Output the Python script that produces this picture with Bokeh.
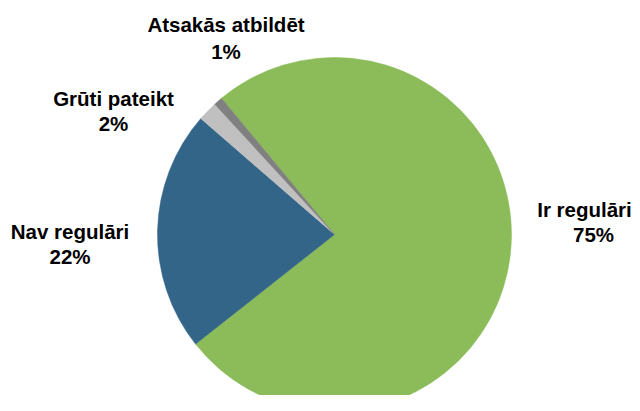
import numpy as np
from bokeh.plotting import figure
from bokeh.models import ColumnDataSource, Range1d
from bokeh.core.properties import value
from bokeh.embed import file_html
from bokeh.resources import INLINE

# ---- data ----
categories = ["Ir regulāri", "Nav regulāri", "Grūti pateikt", "Atsakās atbildēt"]
shares = [75.4, 22.0, 1.8, 0.8]
colors = ["#8BBC59", "#336589", "#C0C0C0", "#808080"]

# ---- layout (pixels, measured from top-left) ----
W, H = 632, 395
cx, cy_top, r = 334, 234, 177
start_deg = 129.7
name_pos = [(584, 209), (69.5, 231), (113, 97.5), (225.5, 24)]
pct_pos = [(593, 234), (69.5, 255.5), (113, 123), (225.5, 50.5)]

vals = np.array(shares, dtype=float)
frac = vals / vals.sum()
cum = np.concatenate([[0.0], np.cumsum(frac)])
base = np.deg2rad(start_deg)
starts = base - cum[:-1] * 2 * np.pi
ends = base - cum[1:] * 2 * np.pi

src = ColumnDataSource(dict(x=[cx] * len(vals), y=[H - cy_top] * len(vals),
                            start=starts, end=ends, color=colors))

p = figure(width=W, height=H, output_backend="svg", toolbar_location=None,
           x_range=Range1d(0, W), y_range=Range1d(0, H), min_border=0)
p.axis.visible = False
p.grid.visible = False
p.outline_line_color = None
p.background_fill_color = "white"
p.border_fill_color = "white"

p.wedge(x="x", y="y", radius=r, start_angle="start", end_angle="end",
        direction="clock", fill_color="color", line_color="color",
        line_width=0.5, source=src)

pct = [f"{int(round(v))}%" for v in vals]
font = value("Liberation Sans")
common = dict(text_font=font, text_font_style="bold", text_font_size="20.5px",
              text_align="center", text_baseline="middle", text_color="black")
p.text(x=[q[0] for q in name_pos], y=[H - q[1] for q in name_pos],
       text=categories, **common)
p.text(x=[q[0] for q in pct_pos], y=[H - q[1] for q in pct_pos],
       text=pct, **common)

open("out.html", "w").write(file_html(p, INLINE))
